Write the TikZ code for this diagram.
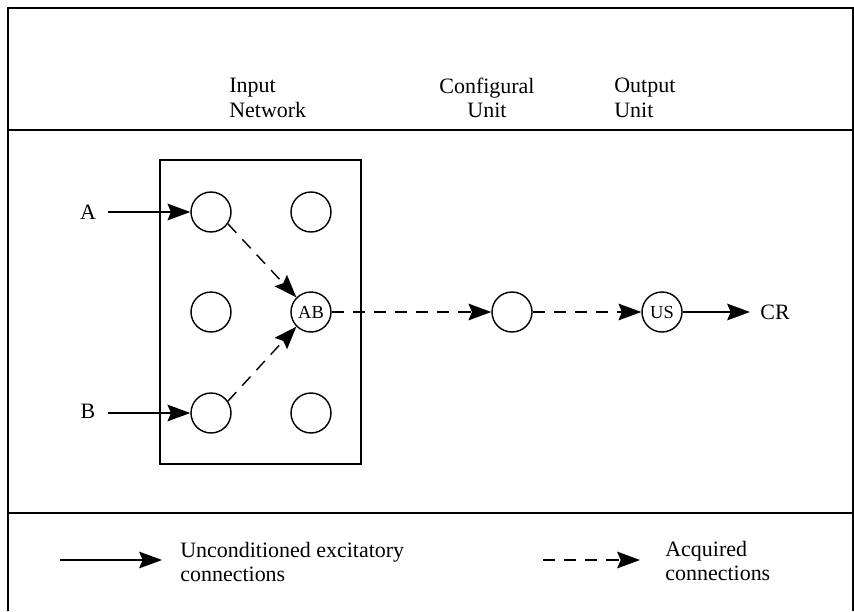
\documentclass[tikz,border=0pt]{standalone}
\usepackage{fontspec}
\setmainfont{Liberation Serif}
\usetikzlibrary{arrows.meta}
\begin{document}
\begin{tikzpicture}[x=0.02cm,y=-0.02cm,
  unit/.style={circle,draw,line width=0.8pt,minimum size=0.8cm,inner sep=0pt,font=\fontsize{10.5}{11}\selectfont},
  lbl/.style={font=\fontsize{12.5}{14}\selectfont,inner sep=0pt},
  solidarr/.style={line width=0.8pt,-{Stealth[length=13pt,width=9.5pt,inset=2pt]}},
  dasharr/.style={line width=0.8pt,dash pattern=on 7pt off 5pt,-{Stealth[length=13pt,width=9.5pt,inset=2pt]}},
  frame/.style={line width=0.9pt}]
\useasboundingbox (0,0) rectangle (854,611);
% outer frame
\draw[frame] (8,611) -- (8,8) -- (853,8) -- (853,611);
\draw[frame] (8,130) -- (853,130);
\draw[frame] (8,513) -- (853,513);
% headers
\node[lbl,align=left,anchor=west] (hin) at (229,98) {Input\\Network};
\node[lbl,align=center] (hcu) at (487,98) {Configural\\Unit};
\node[lbl,align=left,anchor=west] (hou) at (614,98) {Output\\Unit};
% input network box
\draw[frame] (160,160) rectangle (361,464);
\node[unit] (a1) at (211,212) {};
\node[unit] (a2) at (311,212) {};
\node[unit] (b1) at (211,312) {};
\node[unit] (ab) at (311,312) {AB};
\node[unit] (c1) at (211,413) {};
\node[unit] (c2) at (311,413) {};
\node[unit] (cfg) at (512,312) {};
\node[unit] (us) at (662,312) {US};
\node[lbl] (A) at (88,212) {A};
\node[lbl] (B) at (88,411) {B};
\node[lbl,anchor=west] (cr) at (760,312) {CR};
\coordinate (ain) at (108,212);
\coordinate (bin) at (108,413);
\draw[solidarr] (ain) -- (a1.west);
\draw[solidarr] (bin) -- (c1.west);
\draw[dasharr] (a1.-35) -- (ab.north west);
\draw[dasharr] (c1.35) -- (ab.south west);
\draw[dasharr] (ab.east) -- (cfg.west);
\draw[dasharr] (cfg.east) -- (us.west);
\coordinate (crin) at (750,312);
\draw[solidarr] (us.east) -- (crin);
% legend
\coordinate (l1s) at (60,560);
\coordinate (l1e) at (162,560);
\draw[solidarr] (l1s) -- (l1e);
\node[lbl,align=left,anchor=west] (t1) at (180,562) {Unconditioned excitatory\\connections};
\coordinate (l2s) at (543,560);
\coordinate (l2e) at (640,560);
\draw[dasharr] (l2s) -- (l2e);
\node[lbl,align=left,anchor=west] (t2) at (665,561) {Acquired\\connections};
\end{tikzpicture}
\end{document}
